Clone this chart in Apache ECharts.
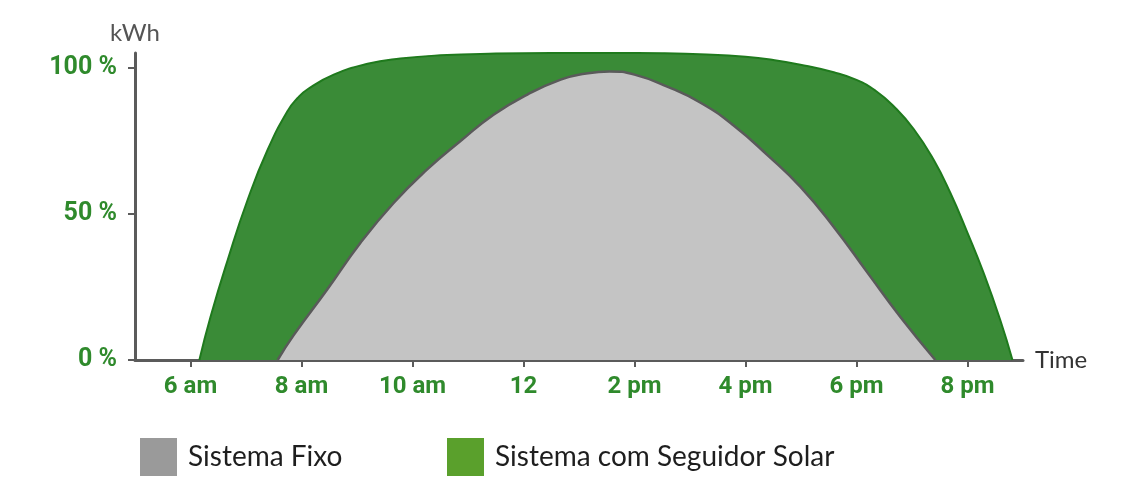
<!DOCTYPE html>
<html>
<head>
<meta charset="utf-8">
<script src="https://cdn.jsdelivr.net/npm/echarts@6/dist/echarts.min.js"></script>
<style>
html,body{margin:0;padding:0;background:#fff;}
#chart{width:1143px;height:491px;}
</style>
</head>
<body>
<div id="chart"></div>
<script>
// Time of day (hours) and relative energy (%)
const fixoSeries = [
  [7.57,0],[7.86,8.5],[8.46,24.0],[9.06,40.0],[9.66,53.7],[10.26,65.1],[10.86,74.8],
  [11.46,83.9],[12.07,90.8],[12.67,95.9],[13.1,97.9],[13.55,98.7],[14.0,97.6],[14.59,93.5],
  [15.19,88],[15.78,80.3],[16.4,70.0],[16.99,59.2],[17.59,45.5],[18.2,29.8],[18.79,14.7],[19.42,0]
];
const seguidorSeries = [
  [6.16,0],[6.36,14.7],[6.67,34.2],[7.03,54.8],[7.39,71.9],[7.75,85.2],[7.93,89.6],[8.11,92.6],
  [8.58,97.6],[9.19,101.3],[9.78,103.1],[10.5,104.2],[11.5,104.8],[12.5,105],[13.6,105],
  [14.5,104.9],[15.3,104.5],[16.0,103.7],[16.5,102.6],[16.99,101],[17.59,98.4],[18.0,95.8],
  [18.35,92.0],[18.67,86.8],[19.03,79.0],[19.39,68.5],[19.69,57.2],[20.0,43.5],[20.29,29.8],
  [20.59,13.7],[20.81,0]
];
const xTickValues = [6,8,10,12,14,16,18,20];
const xTickLabels = ['6 am','8 am','10 am','12','2 pm','4 pm','6 pm','8 pm'];
const yTickValues = [0,50,100];
const yTickLabels = ['0 %','50 %','100 %'];
const seriesNames = ['Sistema Fixo','Sistema com Seguidor Solar'];

const labelGreen = '#2f8a2c';
const axisGray = '#5b5b5b';
const tickFont = "Roboto, 'DejaVu Sans', sans-serif";

const chart = echarts.init(document.getElementById('chart'), null, {renderer:'canvas'});
chart.setOption({
  animation: false,
  backgroundColor: '#ffffff',
  grid: {left: 135, right: 120, top: 53, bottom: 131, containLabel: false},
  legend: [
    {
      data: [{name: seriesNames[0], itemStyle: {color: '#9a9a9a'}}],
      left: 135, top: 433, icon: 'rect', itemWidth: 37, itemHeight: 38,
      textStyle: {fontFamily: "Lato, 'Open Sans', sans-serif", fontSize: 28, color: '#1e1e1e', padding: [0,0,0,6]},
      selectedMode: false
    },
    {
      data: [{name: seriesNames[1], itemStyle: {color: '#5aa02c'}}],
      left: 442, top: 433, icon: 'rect', itemWidth: 37, itemHeight: 38,
      textStyle: {fontFamily: "Lato, 'Open Sans', sans-serif", fontSize: 28, color: '#1e1e1e', padding: [0,0,0,6]},
      selectedMode: false
    }
  ],
  xAxis: {
    type: 'value', min: 5, max: 21,
    name: 'Time', nameLocation: 'end', nameGap: 12,
    nameTextStyle: {fontFamily: "Lato, 'Open Sans', sans-serif", fontSize: 24, color: '#333', verticalAlign: 'middle'},
    axisLine: {show: true, lineStyle: {color: axisGray, width: 3}},
    axisTick: {show: true, customValues: xTickValues, length: 7, lineStyle: {color: axisGray, width: 2}},
    axisLabel: {
      customValues: xTickValues, margin: 15,
      formatter: v => xTickLabels[xTickValues.indexOf(v)] || '',
      fontFamily: tickFont, fontWeight: 'bold', fontSize: 24, color: labelGreen
    },
    splitLine: {show: false}
  },
  yAxis: {
    type: 'value', min: 0, max: 105,
    name: 'kWh', nameLocation: 'end', nameGap: 8,
    nameTextStyle: {fontFamily: "Lato, 'Open Sans', sans-serif", fontSize: 24, color: '#555', align: 'center'},
    axisLine: {show: true, lineStyle: {color: axisGray, width: 3}},
    axisTick: {show: true, customValues: yTickValues, length: 7, lineStyle: {color: axisGray, width: 2}},
    axisLabel: {
      customValues: yTickValues, margin: 18,
      formatter: v => yTickLabels[yTickValues.indexOf(v)] || '',
      fontFamily: tickFont, fontWeight: 'bold', fontSize: 25, color: labelGreen
    },
    splitLine: {show: false}
  },
  series: [
    {
      name: seriesNames[1], type: 'line', data: seguidorSeries,
      smooth: 0.5, showSymbol: false, z: 2,
      lineStyle: {color: '#1f7a1d', width: 2},
      itemStyle: {color: '#5aa02c'},
      areaStyle: {color: '#3a8b37', opacity: 1}
    },
    {
      name: seriesNames[0], type: 'line', data: fixoSeries,
      smooth: 0.5, showSymbol: false, z: 3,
      lineStyle: {color: '#5a5a5a', width: 2.5},
      itemStyle: {color: '#9a9a9a'},
      areaStyle: {color: '#c4c4c4', opacity: 1}
    }
  ]
});
</script>
</body>
</html>
